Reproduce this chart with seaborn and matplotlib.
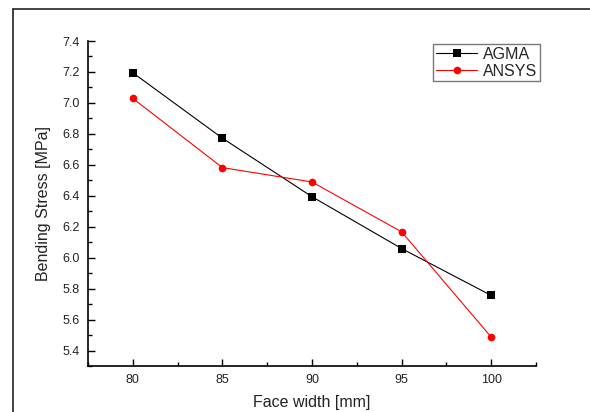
import pandas as pd
import matplotlib
matplotlib.use('Agg')
import matplotlib.pyplot as plt
import seaborn as sns
from matplotlib.lines import Line2D
from matplotlib.ticker import MultipleLocator, FormatStrFormatter

face_width = [80, 85, 90, 95, 100]
agma = [7.195, 6.772, 6.394, 6.059, 5.756]
ansys = [7.029, 6.582, 6.489, 6.167, 5.487]

data = pd.DataFrame({
    'Face width [mm]': face_width * 2,
    'Bending Stress [MPa]': agma + ansys,
    'Method': ['AGMA'] * 5 + ['ANSYS'] * 5,
})

sns.set_style('white')
plt.rcParams['font.family'] = ['Liberation Sans', 'DejaVu Sans']

fig = plt.figure(figsize=(5.9, 4.12), dpi=100)
ax = fig.add_axes([88 / 590, 1 - 366 / 412, (536 - 88) / 590, (366 - 41) / 412])

sns.lineplot(data=data, x='Face width [mm]', y='Bending Stress [MPa]', hue='Method',
             style='Method', markers={'AGMA': 's', 'ANSYS': 'o'}, dashes=False,
             palette={'AGMA': 'black', 'ANSYS': 'red'}, linewidth=0.8,
             markersize=5.5, markeredgewidth=0, ax=ax)

ax.set_xlim(77.5, 102.5)
ax.set_ylim(5.3, 7.4)
ax.xaxis.set_major_locator(MultipleLocator(5))
ax.xaxis.set_minor_locator(MultipleLocator(2.5))
ax.yaxis.set_major_locator(MultipleLocator(0.2))
ax.yaxis.set_minor_locator(MultipleLocator(0.1))
ax.yaxis.set_major_formatter(FormatStrFormatter('%.1f'))
ax.tick_params(which='major', direction='in', length=5, width=1, labelsize=9, pad=6,
               colors='black', labelcolor='#222222')
ax.tick_params(which='minor', direction='in', length=3, width=1, colors='black')
ax.tick_params(axis='x', which='both', bottom=True)
ax.tick_params(axis='y', which='both', left=True)
for s in ['top', 'right']:
    ax.spines[s].set_visible(False)
for s in ['left', 'bottom']:
    ax.spines[s].set_linewidth(1.2)
    ax.spines[s].set_color('black')

ax.set_xlabel('Face width [mm]', fontsize=11.5, labelpad=6, color='#222222')
ax.set_ylabel('Bending Stress [MPa]', fontsize=11.5, labelpad=8, color='#222222')

leg = ax.legend(title=None, loc='upper right', bbox_to_anchor=(1.008, 0.99), fontsize=11.5,
                frameon=True, fancybox=False, edgecolor='#555555', borderpad=0.15,
                borderaxespad=0.0, handlelength=2.6, handletextpad=0.35, labelspacing=0.15)
leg.get_frame().set_linewidth(1.0)

fig.add_artist(Line2D([13 / 590, 13 / 590], [0, 1 - 9 / 412], color='#222222', linewidth=1.2))
fig.add_artist(Line2D([13 / 590, 1], [1 - 9 / 412, 1 - 9 / 412], color='#222222', linewidth=1.2))

plt.savefig('out.png', dpi=100)
